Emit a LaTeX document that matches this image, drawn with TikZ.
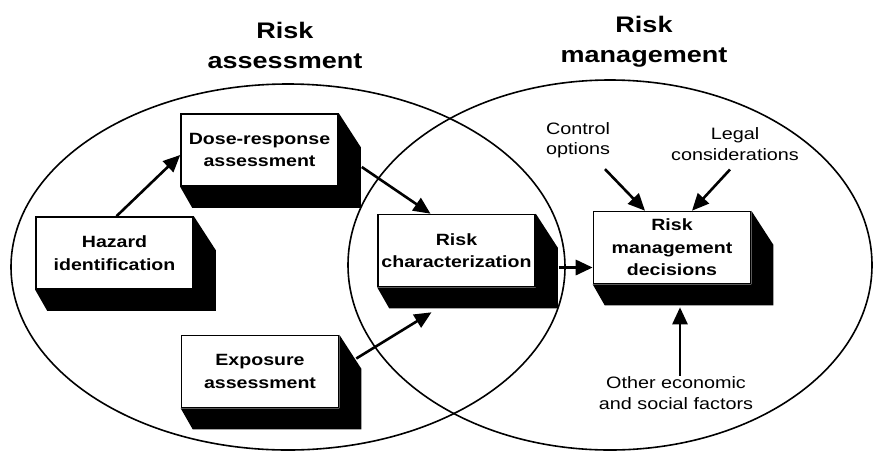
\documentclass[tikz,border=0pt]{standalone}
\usepackage{fontspec}
\setmainfont{Liberation Sans}[FakeStretch=1.2]
\usetikzlibrary{arrows.meta,positioning}
\tikzset{>={Triangle[length=17pt,width=15pt]}}
\newcommand{\boxfont}{\fontsize{16.3}{22.5}\selectfont\bfseries}
\newcommand{\lblfont}{\fontsize{16.5}{20.5}\selectfont}
\newcommand{\ttlfont}{\fontsize{22.5}{30}\selectfont\bfseries}

\begin{document}
\begin{tikzpicture}[x=1pt,y=-1pt,
                    venn/.style={line width=1.6pt, black},
                    stepbox/.style={draw, line width=1.6pt, fill=white, minimum width=157pt,
                                    minimum height=72pt, align=center, inner sep=2pt, font=\boxfont},
                    shadow/.style={fill=black},
                    lbl/.style={align=center, inner sep=1pt, font=\lblfont},
                    ttl/.style={align=center, inner sep=1pt, font=\ttlfont},
                    arr/.style={line width=2.6pt, ->},
                   ]

\fill[white] (0,0) rectangle (873,451);
\useasboundingbox (0,0) rectangle (873,451);

% the two fields
\draw[venn] (288,267) ellipse [x radius=277pt, y radius=183pt];
\draw[venn] (610,265) ellipse [x radius=262pt, y radius=185pt];

\node[ttl] (ra) at (285,45) {Risk\\assessment};
\node[ttl] (rm) at (644,42) {Risk\\management};

% steps
\node[stepbox] (hazard)   at (114.5,253)   {Hazard\\identification};
\node[stepbox] (dose)     at (259.5,150)   {Dose-response\\assessment};
\node[stepbox] (expo)     at (260,371.5)   {Exposure\\assessment};
\node[stepbox] (riskchar) at (456.5,250.5) {Risk\\characterization};
\node[stepbox] (rmd)      at (672,247.5)   {Risk\\management\\decisions};

\foreach \b in {hazard,dose,expo,riskchar,rmd}
  \fill[shadow] (\b.north east) -- ++(22,34) -- ([shift={(22,21)}]\b.south east)
        -- ([shift={(12,21)}]\b.south west) -- (\b.south west) -- (\b.south east) -- cycle;

% outside factors
\node[lbl] (ctrl)  at (578,140) {Control\\options};
\node[lbl] (legal) at (735,144) {Legal\\considerations};
\node[lbl] (other) at (676,393) {Other economic\\and social factors};

\draw[arr] ([shift={(2,0)}]hazard.north) -- ([shift={(0,5)}]dose.west);
\draw[arr] ([shift={(23,17)}]dose.east) -- ([shift={(-26,0)}]riskchar.north);
\draw[arr] ([shift={(17,-13)}]expo.east) -- ([shift={(-25,25)}]riskchar.south);

\coordinate (rc out) at ([shift={(23,17)}]riskchar.east);
\draw[arr, line width=3.2pt] (rc out) -- (rc out -| rmd.west);

\draw[arr] ([shift={(27,10)}]ctrl.south) -- ([shift={(-27,0)}]rmd.north);
\draw[arr] ([shift={(-5,8)}]legal.south) -- ([shift={(20,0)}]rmd.north);
\coordinate (oth tip) at ([shift={(8,23)}]rmd.south);
\draw[arr] (oth tip |- other.north) -- (oth tip);

\end{tikzpicture}
\end{document}
